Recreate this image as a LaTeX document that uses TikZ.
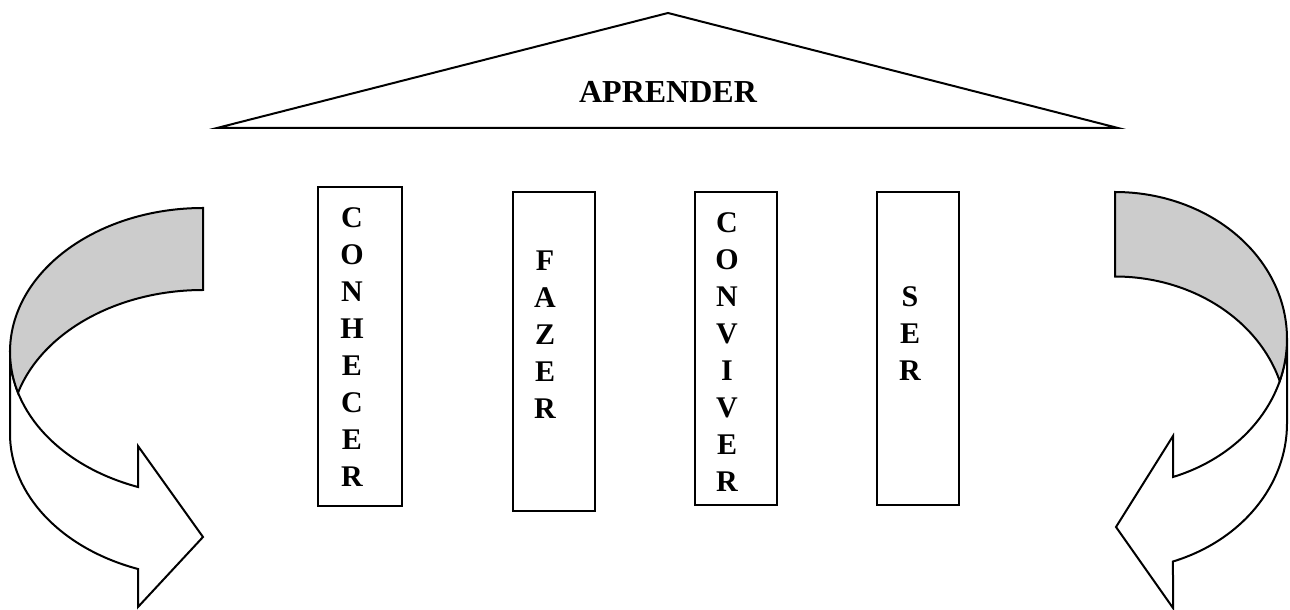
\documentclass[tikz,border=0pt]{standalone}
\usepackage{fontspec}
\setmainfont{Liberation Serif}
\usetikzlibrary{calc}
\definecolor{bandgray}{RGB}{204,204,204}
\begin{document}
\begin{tikzpicture}[x=1pt,y=1pt,
  outline/.style={draw=black, line width=2pt, line join=miter},
  colbox/.style={outline, fill=white, inner sep=0pt},
  letters/.style={inner sep=0pt, align=center, font=\bfseries\fontsize{30}{37}\selectfont},
  leftarc/.style={x radius=193pt, y radius=143.7pt},
  rightarc/.style={x radius=172pt, y radius=146.8pt},
]
\useasboundingbox (0,0) rectangle (1290,610);
\fill[white] (0,0) rectangle (1290,610);

% roof
\coordinate (apex) at (668,597);
\coordinate (eaveL) at (217,482);
\coordinate (eaveR) at (1118,482);
\draw[outline] (eaveL) -- (apex) -- (eaveR) -- cycle;
\node[inner sep=0pt, font=\bfseries\fontsize{32}{32}\selectfont] (roof) at (668,518) {APRENDER};

% columns
\node[colbox, minimum width=84pt, minimum height=319pt] (col1) at (360,263.5) {};
\node[colbox, minimum width=82pt, minimum height=319pt] (col2) at (554,258.5) {};
\node[colbox, minimum width=82pt, minimum height=313pt] (col3) at (736,261.5) {};
\node[colbox, minimum width=82pt, minimum height=313pt] (col4) at (918,261.5) {};
\node[letters] (txt1) at (352,262.5) {C\\O\\N\\H\\E\\C\\E\\R};
\node[letters] (txt2) at (545,275) {F\\A\\Z\\E\\R};
\node[letters] (txt3) at (727,258) {C\\O\\N\\V\\I\\V\\E\\R};
\node[letters] (txt4) at (910,276.5) {S\\E\\R};

% left curved arrow: front band with head, then the shaded back band
\draw[outline, fill=white] (10,258.3) -- (10,176.3)
  arc[start angle=180, end angle=250.32, leftarc]
  -- (138,3) -- (203,73) -- (138,164) -- (138,123)
  arc[start angle=250.32, end angle=180, leftarc] -- cycle;
\draw[outline, fill=bandgray] (203,402)
  arc[start angle=90, end angle=196.58, leftarc]
  arc[start angle=163.42, end angle=90, leftarc] -- cycle;

% right curved arrow
\draw[outline, fill=white] (1287,271.2) -- (1287,186.7)
  arc[start angle=0, end angle=-70.3, rightarc]
  -- (1173,2) -- (1116,83) -- (1173,174) -- (1173,133)
  arc[start angle=-70.3, end angle=0, rightarc] -- cycle;
\draw[outline, fill=bandgray] (1115,418)
  arc[start angle=90, end angle=-16.73, rightarc]
  arc[start angle=16.73, end angle=90, rightarc] -- cycle;
\end{tikzpicture}
\end{document}
